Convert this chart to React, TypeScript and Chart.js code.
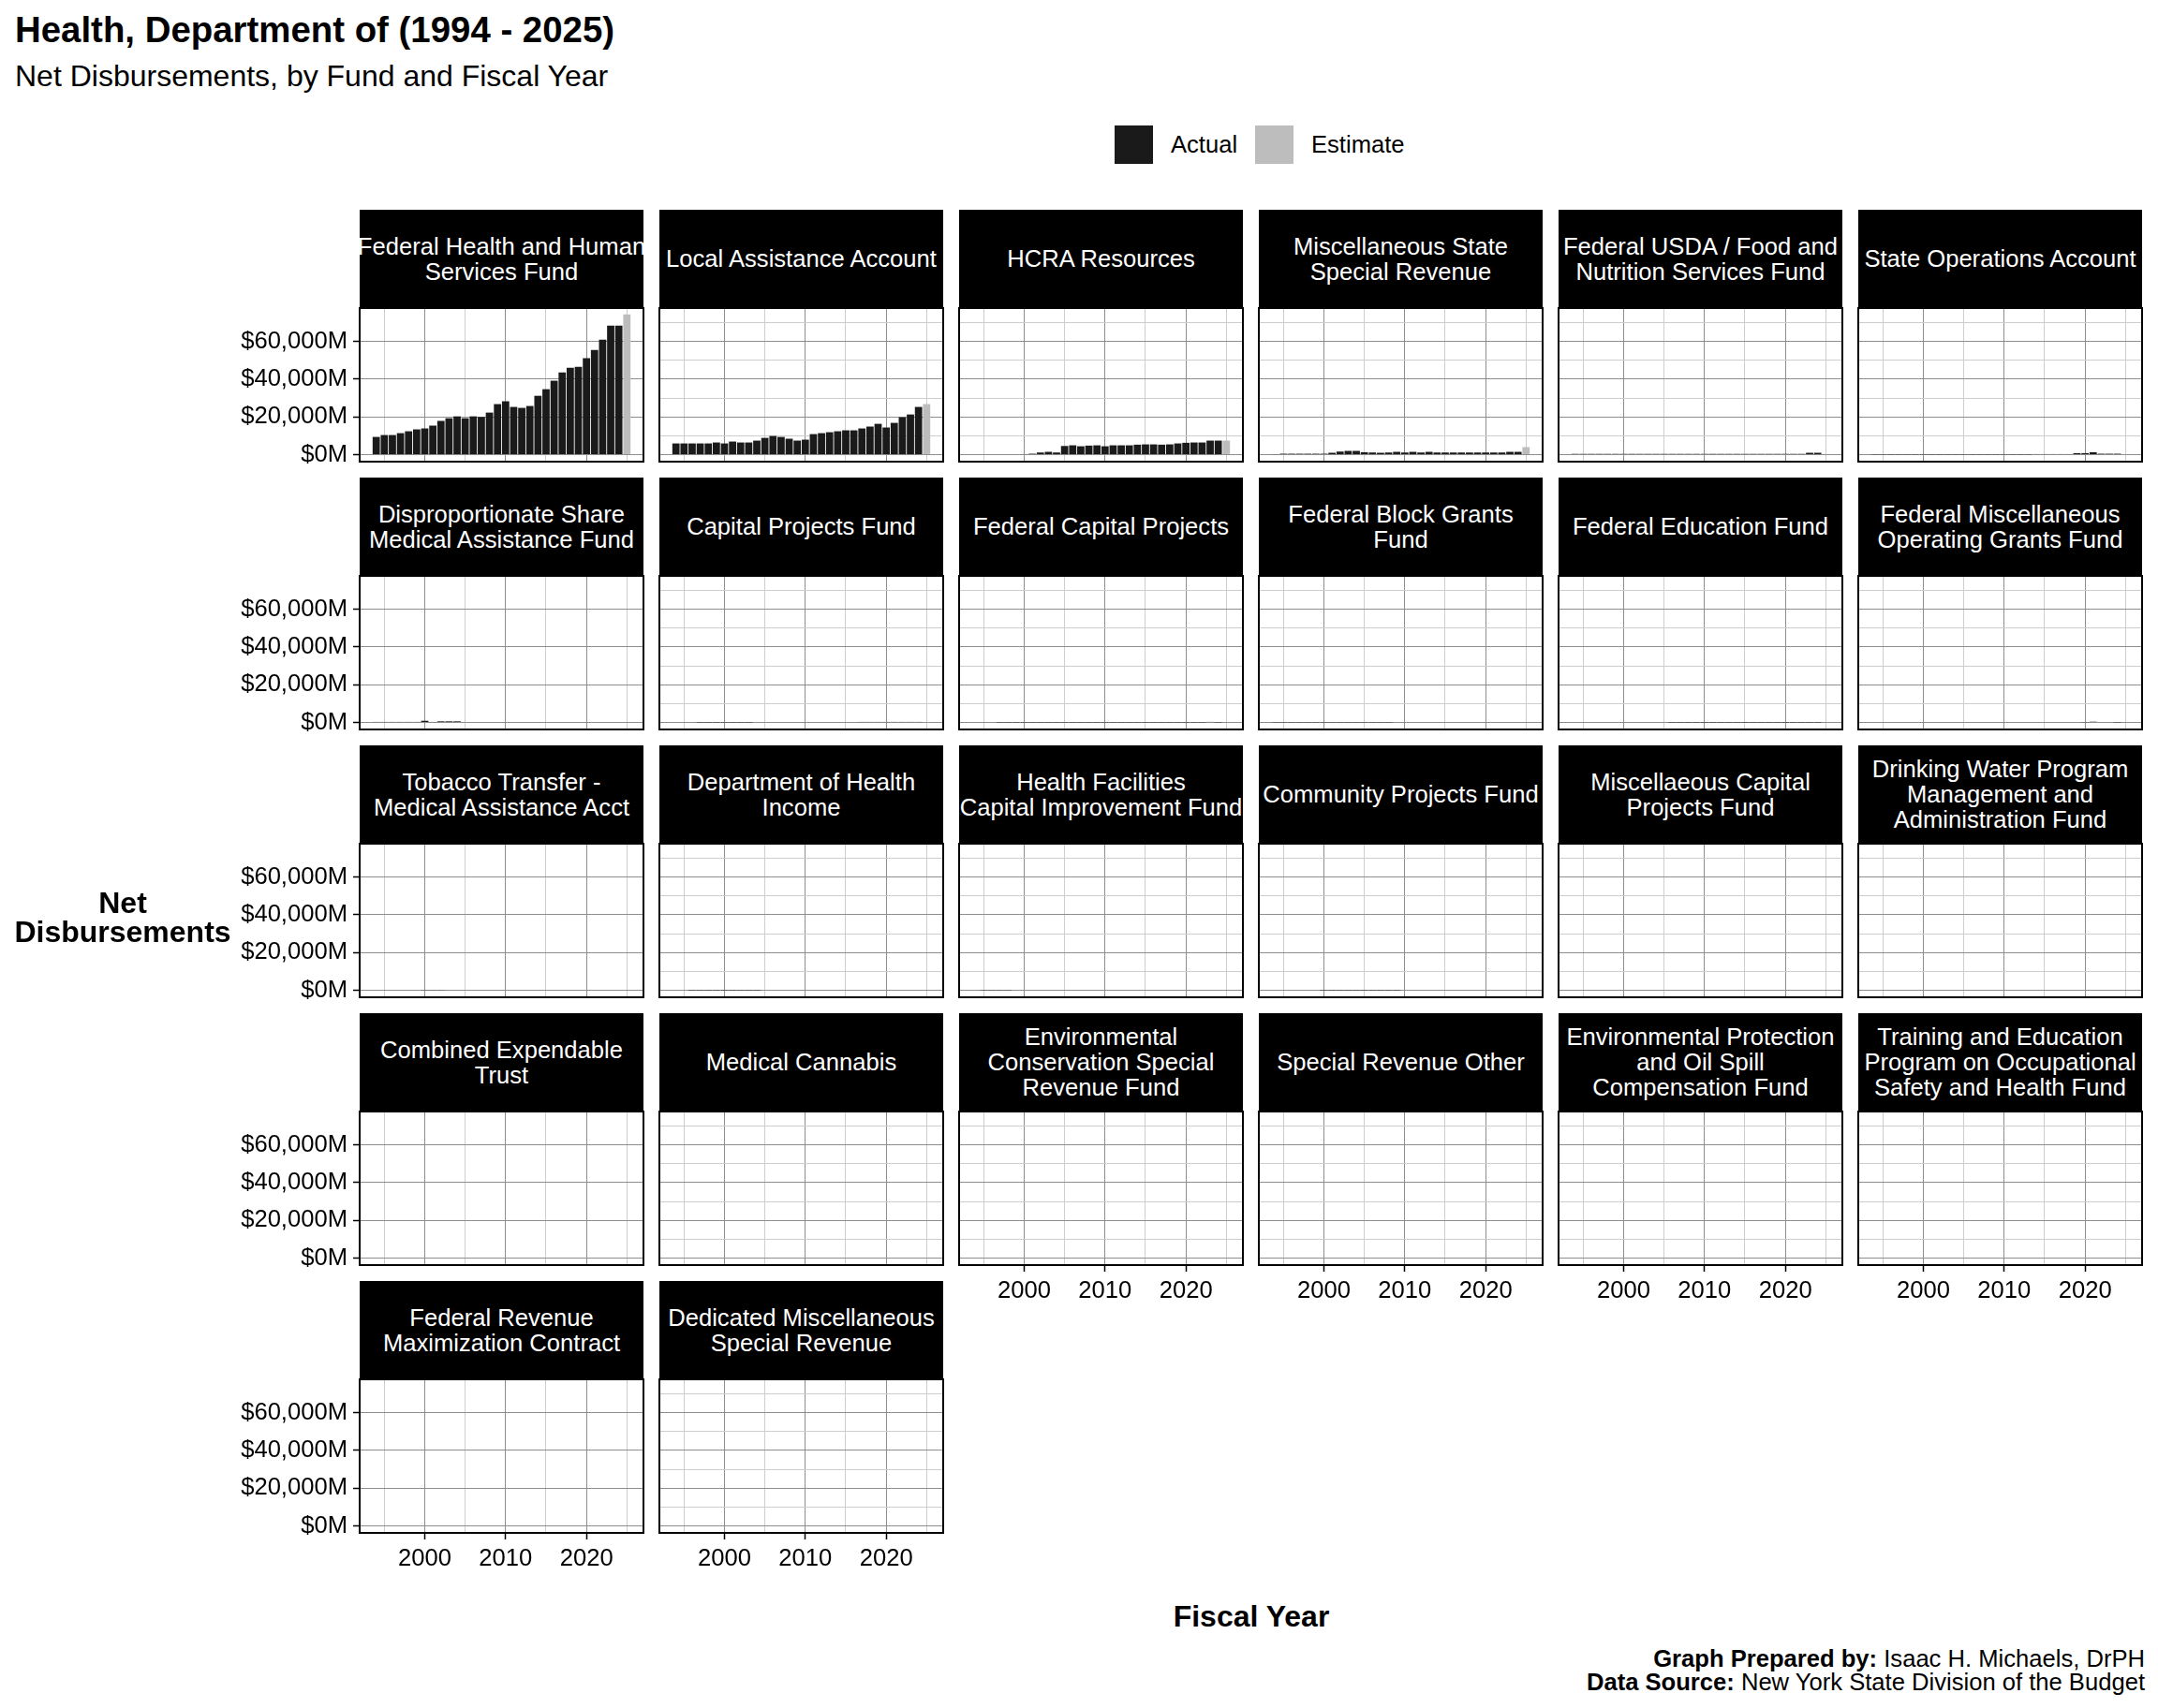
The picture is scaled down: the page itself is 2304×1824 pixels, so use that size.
import React, { useEffect, useRef } from "react";
import { Chart, registerables } from "chart.js";

Chart.register(...registerables);

// ---------------- DATA ($ millions) ----------------
const years = [
  1994, 1995, 1996, 1997, 1998, 1999, 2000, 2001, 2002, 2003, 2004, 2005, 2006, 2007, 2008, 2009,
  2010, 2011, 2012, 2013, 2014, 2015, 2016, 2017, 2018, 2019, 2020, 2021, 2022, 2023, 2024,
];
const estimateYear = 2025;

const xTickValues = [1995, 2000, 2005, 2010, 2015, 2020, 2025];
const yTickValues = [0, 10000, 20000, 30000, 40000, 50000, 60000, 70000];

const fundNames = [
  "Federal Health and Human\nServices Fund",
  "Local Assistance Account",
  "HCRA Resources",
  "Miscellaneous State\nSpecial Revenue",
  "Federal USDA / Food and\nNutrition Services Fund",
  "State Operations Account",
  "Disproportionate Share\nMedical Assistance Fund",
  "Capital Projects Fund",
  "Federal Capital Projects",
  "Federal Block Grants\nFund",
  "Federal Education Fund",
  "Federal Miscellaneous\nOperating Grants Fund",
  "Tobacco Transfer -\nMedical Assistance Acct",
  "Department of Health\nIncome",
  "Health Facilities\nCapital Improvement Fund",
  "Community Projects Fund",
  "Miscellaeous Capital\nProjects Fund",
  "Drinking Water Program\nManagement and\nAdministration Fund",
  "Combined Expendable\nTrust",
  "Medical Cannabis",
  "Environmental\nConservation Special\nRevenue Fund",
  "Special Revenue Other",
  "Environmental Protection\nand Oil Spill\nCompensation Fund",
  "Training and Education\nProgram on Occupational\nSafety and Health Fund",
  "Federal Revenue\nMaximization Contract",
  "Dedicated Miscellaneous\nSpecial Revenue",
];

const fedHealthHumanServices = [
  9400, 10400, 10400, 11400, 12400, 13400, 13900, 15400, 17900, 19300, 20300, 19300, 20300, 20000,
  22300, 26800, 28300, 25300, 24800, 25800, 31200, 34700, 39200, 43600, 46100, 46600, 51100, 55500,
  61000, 68400, 68400,
];
const localAssistance = [
  5950, 5950, 5950, 5950, 5950, 6450, 5950, 6950, 6450, 6450, 7450, 8900, 9900, 9400, 8450, 7450,
  7950, 10900, 11400, 11900, 12400, 12900, 12900, 13900, 14900, 16350, 14400, 16850, 19850, 21300,
  25300,
];
const hcraResources = [
  0, 0, 0, 0, 0, 0, 300, 500, 1150, 1500, 1150, 4600, 4950, 4450, 4800, 4950, 4450, 4950, 4950,
  4950, 5300, 5450, 5450, 5300, 5450, 5950, 6300, 6450, 6450, 7450, 7450,
];
const miscStateSpecialRevenue = [
  200, 500, 500, 500, 500, 500, 500, 1000, 1650, 2000, 2000, 1300, 1150, 1000, 1150, 1500, 1150,
  1500, 1150, 1500, 1150, 1150, 1150, 1150, 1150, 1150, 1150, 1150, 1150, 1500, 1500,
];
const fedUsdaFood = [
  400, 400, 400, 400, 400, 400, 400, 400, 400, 400, 400, 400, 400, 400, 400, 400, 400, 400, 400,
  400, 400, 400, 400, 400, 400, 400, 400, 400, 400, 1000, 1000,
];
const stateOperations = [
  100, 100, 100, 100, 100, 100, 100, 100, 100, 100, 100, 100, 100, 100, 100, 100, 100, 100, 100,
  100, 300, 300, 300, 300, 300, 800, 800, 1300, 500, 500, 500,
];
const disproportionateShare = [
  300, 300, 300, 300, 300, 300, 900, 300, 600, 600, 600, 0, 0, 0, 0, 0, 0, 0, 0, 0, 0, 0, 0, 0, 0,
  0, 0, 0, 0, 0, 0,
];
const capitalProjects = [
  0, 0, 0, 60, 60, 60, 60, 60, 60, 60, 0, 0, 0, 250, 250, 250, 250, 250, 250, 250, 0, 0, 0, 300,
  300, 300, 300, 300, 300, 300, 300,
];
const fedCapitalProjects = [
  0, 0, 0, 70, 70, 70, 70, 70, 70, 70, 70, 70, 70, 70, 70, 70, 70, 70, 70, 70, 70, 70, 70, 70, 70,
  70, 70, 70, 70, 300, 70,
];
const fedBlockGrants = [
  100, 100, 100, 100, 100, 100, 100, 100, 100, 100, 100, 100, 100, 100, 100, 0, 0, 0, 0, 0, 0, 0,
  0, 0, 0, 0, 0, 0, 0, 0, 0,
];
const fedEducation = [
  0, 0, 0, 0, 0, 0, 0, 0, 0, 0, 0, 0, 40, 40, 40, 40, 40, 40, 40, 40, 40, 40, 40, 40, 40, 40, 40,
  40, 40, 40, 40,
];
const fedMiscOperatingGrants = [
  0, 0, 0, 0, 0, 0, 0, 0, 0, 0, 0, 0, 0, 0, 0, 0, 0, 0, 0, 0, 0, 0, 0, 0, 0, 0, 150, 400, 0, 0,
  100,
];
const tobaccoTransfer = [
  0, 0, 0, 0, 0, 0, 150, 150, 150, 0, 0, 0, 0, 0, 0, 0, 0, 0, 0, 0, 0, 0, 0, 0, 0, 0, 0, 0, 0, 0,
  0,
];
const dohIncome = [
  0, 0, 30, 30, 30, 30, 30, 30, 30, 30, 30, 0, 0, 0, 0, 0, 0, 0, 0, 0, 0, 0, 0, 0, 0, 0, 0, 0, 0, 0,
  0,
];
const healthFacilitiesCapital = [
  0, 100, 100, 100, 100, 0, 0, 0, 0, 0, 0, 0, 0, 0, 0, 0, 0, 0, 0, 0, 0, 0, 0, 0, 0, 0, 0, 0, 0, 0,
  0,
];
const communityProjects = [
  0, 0, 0, 0, 0, 0, 40, 40, 40, 40, 40, 40, 40, 40, 40, 40, 0, 0, 0, 0, 0, 0, 0, 0, 0, 0, 0, 0, 0,
  0, 0,
];
const zeroSeries = [
  0, 0, 0, 0, 0, 0, 0, 0, 0, 0, 0, 0, 0, 0, 0, 0, 0, 0, 0, 0, 0, 0, 0, 0, 0, 0, 0, 0, 0, 0, 0,
];

const actualSeries = [
  fedHealthHumanServices,
  localAssistance,
  hcraResources,
  miscStateSpecialRevenue,
  fedUsdaFood,
  stateOperations,
  disproportionateShare,
  capitalProjects,
  fedCapitalProjects,
  fedBlockGrants,
  fedEducation,
  fedMiscOperatingGrants,
  tobaccoTransfer,
  dohIncome,
  healthFacilitiesCapital,
  communityProjects,
  zeroSeries,
  zeroSeries,
  zeroSeries,
  zeroSeries,
  zeroSeries,
  zeroSeries,
  zeroSeries,
  zeroSeries,
  zeroSeries,
  zeroSeries,
];

// FY2025 estimates, one per fund (same order as fundNames)
const estimateValues = [
  74400, 26800, 7450, 4000, 250, 200, 0, 150, 0, 0, 0, 0, 0, 0, 0, 0, 0, 0, 0, 0, 0, 0, 0, 0, 0, 0,
];

// ---------------- STYLE / LAYOUT ----------------
const FONT = '"Liberation Sans", Arial, Helvetica, sans-serif';
const ACTUAL_COLOR = "#1a1a1a";
const ESTIMATE_COLOR = "#bdbdbd";
const MAJOR_GRID = "#8e8e8e";
const MINOR_GRID = "#cdcdcd";

const COL0 = 384;
const COL_PITCH = 320;
const PLOT_W = 303;
const ROW0 = 224.3;
const ROW_PITCH = 285.8;
const STRIP_H = 105;
const PLOT_H = 164;
const AX_W = 140;
const AX_H = 55;
const PAD_T = 25;
const PAD_R = 10;
const BOTTOM_PANELS = [20, 21, 22, 23, 24, 25];

const framePlugin = {
  id: "panelFrame",
  afterDraw(chart: any) {
    const { ctx, chartArea: a } = chart;
    ctx.save();
    ctx.strokeStyle = "#000";
    ctx.lineWidth = 2;
    ctx.strokeRect(a.left, a.top, a.right - a.left, a.bottom - a.top);
    ctx.restore();
  },
};

function Panel({ idx }: { idx: number }) {
  const ref = useRef<HTMLCanvasElement | null>(null);
  const row = Math.floor(idx / 6);
  const col = idx % 6;
  const plotX = COL0 + col * COL_PITCH;
  const stripY = Math.round(ROW0 + row * ROW_PITCH);
  const plotY = stripY + STRIP_H;
  const showY = col === 0;
  const showX = BOTTOM_PANELS.includes(idx);
  const cw = AX_W + PLOT_W + PAD_R;
  const ch = PAD_T + PLOT_H + AX_H;

  useEffect(() => {
    const canvas = ref.current;
    if (!canvas) return;
    const tickFont = { family: FONT, size: 25.6 };
    const chart = new Chart(canvas, {
      type: "bar",
      data: {
        datasets: [
          {
            label: "Actual",
            data: years.map((yr, i) => ({ x: yr, y: actualSeries[idx][i] })),
            backgroundColor: ACTUAL_COLOR,
            borderWidth: 0,
            grouped: false,
            categoryPercentage: 1,
            barPercentage: 0.9,
          } as any,
          {
            label: "Estimate",
            data: [{ x: estimateYear, y: estimateValues[idx] }],
            backgroundColor: ESTIMATE_COLOR,
            borderWidth: 0,
            grouped: false,
            categoryPercentage: 1,
            barPercentage: 0.9,
          } as any,
        ],
      },
      options: {
        animation: false,
        responsive: false,
        maintainAspectRatio: false,
        events: [],
        layout: { padding: { top: PAD_T, right: PAD_R, left: 0, bottom: 0 } },
        plugins: {
          legend: { display: false },
          tooltip: { enabled: false },
          title: { display: false },
        },
        scales: {
          x: {
            type: "linear",
            min: 1991.95,
            max: 2027.05,
            offset: false,
            afterBuildTicks: (s: any) => {
              s.ticks = xTickValues.map((v) => ({ value: v }));
            },
            afterFit: (s: any) => {
              s.height = AX_H;
            },
            ticks: {
              display: showX,
              autoSkip: false,
              maxRotation: 0,
              minRotation: 0,
              padding: 6,
              color: "#000",
              font: tickFont,
              callback: (v: any) => (Number(v) % 10 === 0 ? String(v) : ""),
            },
            grid: {
              offset: false,
              drawOnChartArea: true,
              drawTicks: true,
              tickLength: 7,
              lineWidth: 1,
              tickWidth: 1.5,
              color: (c: any) => (c.tick && c.tick.value % 10 === 0 ? MAJOR_GRID : MINOR_GRID),
              tickColor: (c: any) =>
                showX && c.tick && c.tick.value % 10 === 0 ? "#000" : "rgba(0,0,0,0)",
            },
            border: { display: false },
          },
          y: {
            type: "linear",
            min: -3700,
            max: 77700,
            afterBuildTicks: (s: any) => {
              s.ticks = yTickValues.map((v) => ({ value: v }));
            },
            afterFit: (s: any) => {
              s.width = AX_W;
            },
            ticks: {
              display: showY,
              padding: 6,
              color: "#000",
              font: tickFont,
              callback: (v: any) => {
                const n = Number(v);
                return n % 20000 === 0 ? "$" + n.toLocaleString("en-US") + "M" : "";
              },
            },
            grid: {
              drawOnChartArea: true,
              drawTicks: true,
              tickLength: 7,
              lineWidth: 1,
              tickWidth: 1.5,
              color: (c: any) => (c.tick && c.tick.value % 20000 === 0 ? MAJOR_GRID : MINOR_GRID),
              tickColor: (c: any) =>
                showY && c.tick && c.tick.value % 20000 === 0 ? "#000" : "rgba(0,0,0,0)",
            },
            border: { display: false },
          },
        },
      } as any,
      plugins: [framePlugin],
    });
    return () => chart.destroy();
  }, [idx]);

  return (
    <>
      <div
        style={{
          position: "absolute",
          left: plotX,
          top: stripY,
          width: PLOT_W,
          height: STRIP_H,
          background: "#000",
          color: "#fff",
          display: "flex",
          alignItems: "center",
          justifyContent: "center",
          overflow: "hidden",
          fontFamily: FONT,
          fontSize: 25.6,
          lineHeight: "27px",
          textAlign: "center",
          whiteSpace: "pre",
        }}
      >
        {fundNames[idx]}
      </div>
      <canvas
        ref={ref}
        width={cw}
        height={ch}
        style={{
          position: "absolute",
          left: plotX - AX_W,
          top: plotY - PAD_T,
          width: cw,
          height: ch,
        }}
      />
    </>
  );
}

export default function App() {
  const text = (extra: React.CSSProperties): React.CSSProperties => ({
    position: "absolute",
    fontFamily: FONT,
    color: "#000",
    whiteSpace: "pre",
    ...extra,
  });
  return (
    <div
      style={{
        position: "absolute",
        left: 0,
        top: 0,
        width: 2304,
        height: 1824,
        background: "#fff",
        overflow: "hidden",
      }}
    >
      <div style={text({ left: 16, top: 10, fontSize: 38.4, fontWeight: "bold", lineHeight: "44px" })}>
        Health, Department of (1994 - 2025)
      </div>
      <div style={text({ left: 16, top: 63, fontSize: 32, lineHeight: "36px" })}>
        Net Disbursements, by Fund and Fiscal Year
      </div>

      {/* legend */}
      <div style={{ position: "absolute", left: 1190, top: 134, width: 41, height: 41, background: ACTUAL_COLOR }} />
      <div style={text({ left: 1250, top: 139, fontSize: 25.6, lineHeight: "30px" })}>Actual</div>
      <div style={{ position: "absolute", left: 1340, top: 134, width: 41, height: 41, background: ESTIMATE_COLOR }} />
      <div style={text({ left: 1400, top: 139, fontSize: 25.6, lineHeight: "30px" })}>Estimate</div>

      {fundNames.map((_, i) => (
        <Panel key={i} idx={i} />
      ))}

      <div
        style={text({
          left: 0,
          width: 262,
          top: 949,
          fontSize: 32,
          fontWeight: "bold",
          lineHeight: "31px",
          textAlign: "center",
        })}
      >
        {"Net\nDisbursements"}
      </div>

      <div
        style={text({
          left: 1136,
          width: 400,
          top: 1708,
          fontSize: 32,
          fontWeight: "bold",
          lineHeight: "36px",
          textAlign: "center",
        })}
      >
        Fiscal Year
      </div>

      <div
        style={text({
          right: 2304 - 2290,
          top: 1759,
          fontSize: 25.6,
          lineHeight: "24.5px",
          textAlign: "right",
        })}
      >
        <div>
          <b>Graph Prepared by:</b> Isaac H. Michaels, DrPH
        </div>
        <div>
          <b>Data Source:</b> New York State Division of the Budget
        </div>
      </div>
    </div>
  );
}
